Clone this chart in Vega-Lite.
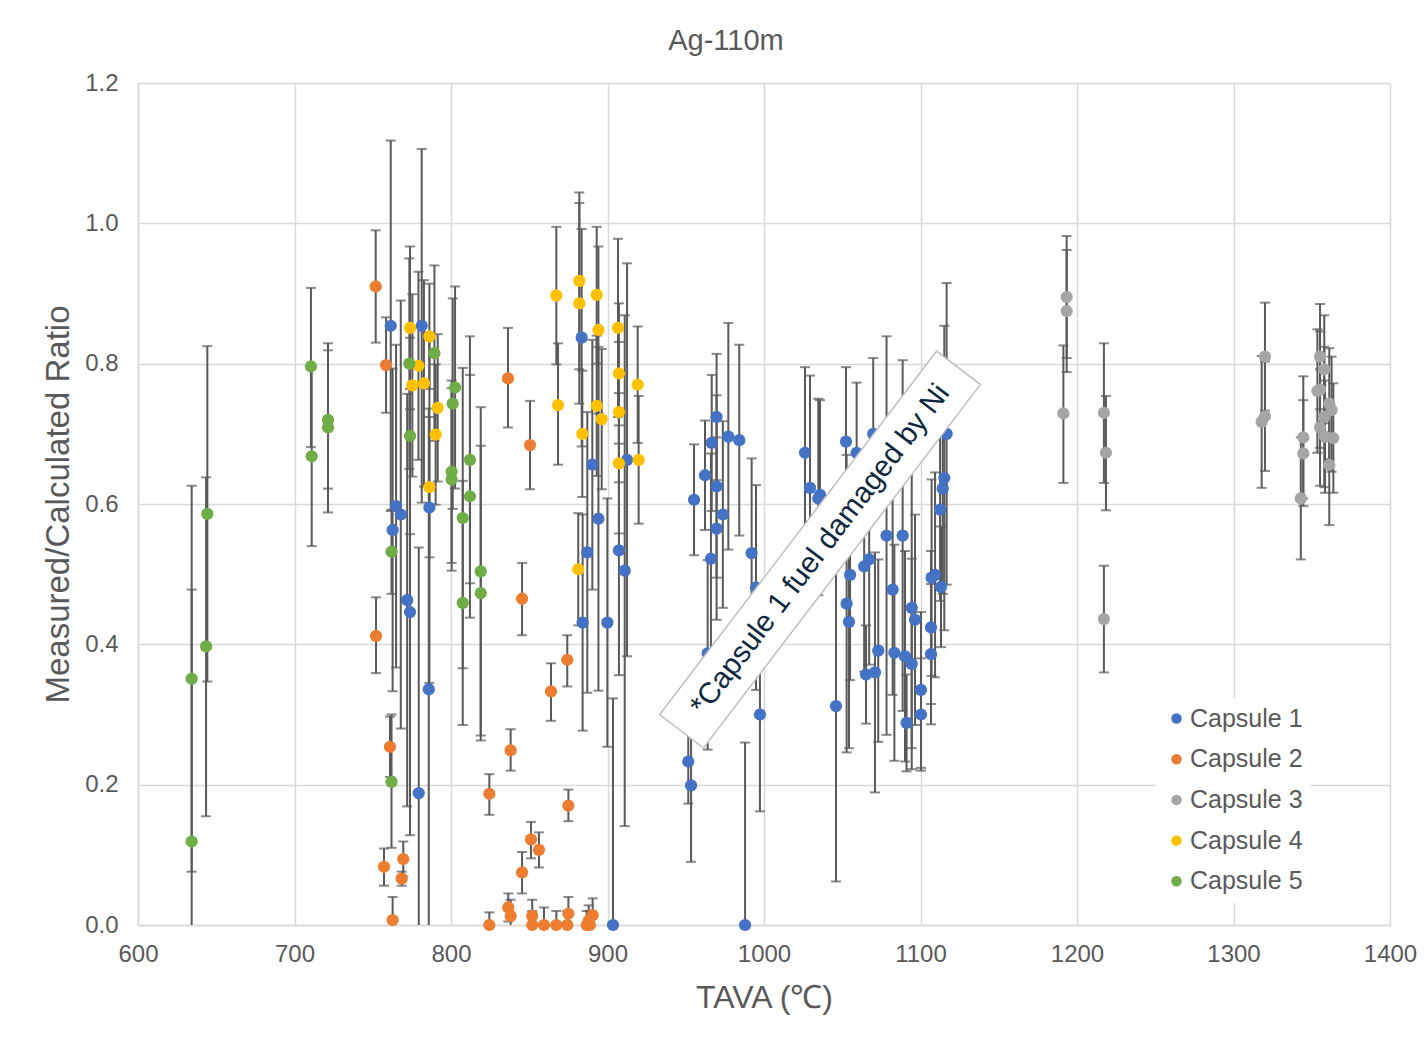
{
  "$schema": "https://vega.github.io/schema/vega-lite/v6.json",
  "width": 1252,
  "height": 842,
  "autosize": {"type": "none"},
  "padding": {"left": 138, "top": 83, "right": 34, "bottom": 113},
  "background": "white",
  "config": {"view": {"stroke": null}, "font": "Liberation Sans"},
  "title": {"text": "Ag-110m", "fontSize": 29, "fontWeight": "normal", "color": "#595959", "offset": -14, "dx": -38, "baseline": "bottom", "font": "Liberation Sans"},
  "datasets": {
    "pts": [
      {"c":"Capsule 1","x":761.5,"y":0.854,"lo":0.59,"hi":1.118},
      {"c":"Capsule 1","x":781.3,"y":0.854,"lo":0.602,"hi":1.106},
      {"c":"Capsule 1","x":764.9,"y":0.597,"lo":0.367,"hi":0.827},
      {"c":"Capsule 1","x":767.9,"y":0.585,"lo":0.28,"hi":0.89},
      {"c":"Capsule 1","x":786.2,"y":0.595,"lo":0.345,"hi":0.845},
      {"c":"Capsule 1","x":762.7,"y":0.563,"lo":0.333,"hi":0.793},
      {"c":"Capsule 1","x":772.0,"y":0.463,"lo":0.169,"hi":0.757},
      {"c":"Capsule 1","x":773.8,"y":0.446,"lo":0.128,"hi":0.764},
      {"c":"Capsule 1","x":785.8,"y":0.336,"lo":-0.064,"hi":0.736},
      {"c":"Capsule 1","x":779.4,"y":0.188,"lo":-0.162,"hi":0.538},
      {"c":"Capsule 1","x":883.5,"y":0.837,"lo":0.682,"hi":0.992},
      {"c":"Capsule 1","x":890.3,"y":0.656,"lo":0.478,"hi":0.834},
      {"c":"Capsule 1","x":894.2,"y":0.579,"lo":0.334,"hi":0.824},
      {"c":"Capsule 1","x":887.1,"y":0.531,"lo":0.331,"hi":0.731},
      {"c":"Capsule 1","x":884.1,"y":0.431,"lo":0.277,"hi":0.585},
      {"c":"Capsule 1","x":899.9,"y":0.431,"lo":0.254,"hi":0.608},
      {"c":"Capsule 1","x":907.3,"y":0.534,"lo":0.356,"hi":0.712},
      {"c":"Capsule 1","x":911.0,"y":0.505,"lo":0.141,"hi":0.869},
      {"c":"Capsule 1","x":912.5,"y":0.663,"lo":0.383,"hi":0.943},
      {"c":"Capsule 1","x":903.5,"y":0.0,"lo":-0.323,"hi":0.323},
      {"c":"Capsule 1","x":955.3,"y":0.606,"lo":0.527,"hi":0.685},
      {"c":"Capsule 1","x":962.3,"y":0.641,"lo":0.563,"hi":0.719},
      {"c":"Capsule 1","x":966.6,"y":0.687,"lo":0.59,"hi":0.784},
      {"c":"Capsule 1","x":969.7,"y":0.724,"lo":0.634,"hi":0.814},
      {"c":"Capsule 1","x":977.2,"y":0.696,"lo":0.535,"hi":0.858},
      {"c":"Capsule 1","x":984.2,"y":0.691,"lo":0.555,"hi":0.827},
      {"c":"Capsule 1","x":969.7,"y":0.625,"lo":0.495,"hi":0.755},
      {"c":"Capsule 1","x":973.7,"y":0.585,"lo":0.452,"hi":0.718},
      {"c":"Capsule 1","x":969.7,"y":0.565,"lo":0.435,"hi":0.695},
      {"c":"Capsule 1","x":966.1,"y":0.522,"lo":0.372,"hi":0.672},
      {"c":"Capsule 1","x":964.0,"y":0.387,"lo":0.25,"hi":0.52},
      {"c":"Capsule 1","x":992.1,"y":0.53,"lo":0.395,"hi":0.665},
      {"c":"Capsule 1","x":994.9,"y":0.481,"lo":0.335,"hi":0.627},
      {"c":"Capsule 1","x":997.4,"y":0.3,"lo":0.162,"hi":0.438},
      {"c":"Capsule 1","x":951.6,"y":0.233,"lo":0.173,"hi":0.293},
      {"c":"Capsule 1","x":953.4,"y":0.199,"lo":0.09,"hi":0.308},
      {"c":"Capsule 1","x":987.9,"y":0.0,"lo":-0.26,"hi":0.26},
      {"c":"Capsule 1","x":1026.2,"y":0.673,"lo":0.551,"hi":0.795},
      {"c":"Capsule 1","x":1029.4,"y":0.623,"lo":0.463,"hi":0.783},
      {"c":"Capsule 1","x":1034.7,"y":0.608,"lo":0.47,"hi":0.75},
      {"c":"Capsule 1","x":1035.8,"y":0.613,"lo":0.478,"hi":0.748},
      {"c":"Capsule 1","x":1046.0,"y":0.312,"lo":0.062,"hi":0.562},
      {"c":"Capsule 1","x":1052.4,"y":0.689,"lo":0.583,"hi":0.795},
      {"c":"Capsule 1","x":1052.8,"y":0.458,"lo":0.246,"hi":0.67},
      {"c":"Capsule 1","x":1054.3,"y":0.432,"lo":0.252,"hi":0.612},
      {"c":"Capsule 1","x":1055.0,"y":0.499,"lo":0.349,"hi":0.649},
      {"c":"Capsule 1","x":1059.2,"y":0.673,"lo":0.573,"hi":0.773},
      {"c":"Capsule 1","x":1064.0,"y":0.511,"lo":0.361,"hi":0.661},
      {"c":"Capsule 1","x":1065.2,"y":0.357,"lo":0.287,"hi":0.427},
      {"c":"Capsule 1","x":1067.2,"y":0.521,"lo":0.371,"hi":0.671},
      {"c":"Capsule 1","x":1069.8,"y":0.7,"lo":0.592,"hi":0.808},
      {"c":"Capsule 1","x":1070.9,"y":0.36,"lo":0.189,"hi":0.531},
      {"c":"Capsule 1","x":1073.0,"y":0.391,"lo":0.261,"hi":0.521},
      {"c":"Capsule 1","x":1078.3,"y":0.555,"lo":0.271,"hi":0.839},
      {"c":"Capsule 1","x":1082.2,"y":0.478,"lo":0.328,"hi":0.628},
      {"c":"Capsule 1","x":1083.3,"y":0.388,"lo":0.234,"hi":0.542},
      {"c":"Capsule 1","x":1088.6,"y":0.555,"lo":0.305,"hi":0.805},
      {"c":"Capsule 1","x":1090.1,"y":0.383,"lo":0.233,"hi":0.533},
      {"c":"Capsule 1","x":1091.1,"y":0.288,"lo":0.219,"hi":0.357},
      {"c":"Capsule 1","x":1094.4,"y":0.452,"lo":0.252,"hi":0.652},
      {"c":"Capsule 1","x":1094.4,"y":0.372,"lo":0.222,"hi":0.522},
      {"c":"Capsule 1","x":1096.5,"y":0.435,"lo":0.285,"hi":0.585},
      {"c":"Capsule 1","x":1100.3,"y":0.335,"lo":0.224,"hi":0.446},
      {"c":"Capsule 1","x":1100.3,"y":0.3,"lo":0.22,"hi":0.38},
      {"c":"Capsule 1","x":1106.7,"y":0.424,"lo":0.315,"hi":0.533},
      {"c":"Capsule 1","x":1106.7,"y":0.386,"lo":0.286,"hi":0.486},
      {"c":"Capsule 1","x":1107.1,"y":0.495,"lo":0.355,"hi":0.635},
      {"c":"Capsule 1","x":1109.3,"y":0.499,"lo":0.353,"hi":0.645},
      {"c":"Capsule 1","x":1113.1,"y":0.482,"lo":0.396,"hi":0.568},
      {"c":"Capsule 1","x":1112.5,"y":0.592,"lo":0.462,"hi":0.722},
      {"c":"Capsule 1","x":1114.2,"y":0.622,"lo":0.472,"hi":0.772},
      {"c":"Capsule 1","x":1115.2,"y":0.637,"lo":0.42,"hi":0.854},
      {"c":"Capsule 1","x":1116.7,"y":0.7,"lo":0.485,"hi":0.915},
      {"c":"Capsule 2","x":751.9,"y":0.91,"lo":0.83,"hi":0.99},
      {"c":"Capsule 2","x":752.1,"y":0.412,"lo":0.359,"hi":0.467},
      {"c":"Capsule 2","x":758.5,"y":0.798,"lo":0.73,"hi":0.866},
      {"c":"Capsule 2","x":761.0,"y":0.254,"lo":0.211,"hi":0.297},
      {"c":"Capsule 2","x":757.2,"y":0.083,"lo":0.056,"hi":0.109},
      {"c":"Capsule 2","x":769.5,"y":0.094,"lo":0.069,"hi":0.119},
      {"c":"Capsule 2","x":768.5,"y":0.066,"lo":0.056,"hi":0.076},
      {"c":"Capsule 2","x":762.7,"y":0.007,"lo":-0.026,"hi":0.04},
      {"c":"Capsule 2","x":824.5,"y":0.187,"lo":0.157,"hi":0.215},
      {"c":"Capsule 2","x":824.5,"y":0.0,"lo":-0.018,"hi":0.018},
      {"c":"Capsule 2","x":836.4,"y":0.779,"lo":0.709,"hi":0.851},
      {"c":"Capsule 2","x":850.5,"y":0.684,"lo":0.621,"hi":0.747},
      {"c":"Capsule 2","x":845.4,"y":0.465,"lo":0.413,"hi":0.516},
      {"c":"Capsule 2","x":874.3,"y":0.378,"lo":0.34,"hi":0.413},
      {"c":"Capsule 2","x":863.9,"y":0.333,"lo":0.291,"hi":0.373},
      {"c":"Capsule 2","x":838.1,"y":0.249,"lo":0.22,"hi":0.279},
      {"c":"Capsule 2","x":875.0,"y":0.17,"lo":0.148,"hi":0.193},
      {"c":"Capsule 2","x":851.1,"y":0.122,"lo":0.095,"hi":0.147},
      {"c":"Capsule 2","x":856.2,"y":0.107,"lo":0.082,"hi":0.132},
      {"c":"Capsule 2","x":845.4,"y":0.075,"lo":0.045,"hi":0.104},
      {"c":"Capsule 2","x":836.6,"y":0.025,"lo":0.005,"hi":0.045},
      {"c":"Capsule 2","x":838.1,"y":0.013,"lo":-0.01,"hi":0.036},
      {"c":"Capsule 2","x":851.9,"y":0.013,"lo":-0.01,"hi":0.036},
      {"c":"Capsule 2","x":851.9,"y":0.0,"lo":-0.02,"hi":0.02},
      {"c":"Capsule 2","x":859.4,"y":0.0,"lo":-0.025,"hi":0.025},
      {"c":"Capsule 2","x":867.3,"y":0.0,"lo":-0.02,"hi":0.02},
      {"c":"Capsule 2","x":874.3,"y":0.0,"lo":-0.02,"hi":0.02},
      {"c":"Capsule 2","x":875.0,"y":0.016,"lo":-0.01,"hi":0.04},
      {"c":"Capsule 2","x":886.7,"y":0.0,"lo":-0.02,"hi":0.02},
      {"c":"Capsule 2","x":888.8,"y":0.0,"lo":-0.02,"hi":0.02},
      {"c":"Capsule 2","x":890.5,"y":0.014,"lo":-0.01,"hi":0.038},
      {"c":"Capsule 2","x":888.0,"y":0.006,"lo":-0.015,"hi":0.028},
      {"c":"Capsule 3","x":1193.4,"y":0.895,"lo":0.808,"hi":0.982},
      {"c":"Capsule 3","x":1193.4,"y":0.875,"lo":0.788,"hi":0.962},
      {"c":"Capsule 3","x":1191.3,"y":0.729,"lo":0.63,"hi":0.826},
      {"c":"Capsule 3","x":1217.2,"y":0.73,"lo":0.63,"hi":0.829},
      {"c":"Capsule 3","x":1218.5,"y":0.673,"lo":0.591,"hi":0.754},
      {"c":"Capsule 3","x":1217.2,"y":0.436,"lo":0.36,"hi":0.512},
      {"c":"Capsule 3","x":1320.1,"y":0.81,"lo":0.733,"hi":0.887},
      {"c":"Capsule 3","x":1320.1,"y":0.725,"lo":0.647,"hi":0.803},
      {"c":"Capsule 3","x":1318.0,"y":0.717,"lo":0.623,"hi":0.811},
      {"c":"Capsule 3","x":1344.6,"y":0.695,"lo":0.608,"hi":0.782},
      {"c":"Capsule 3","x":1344.6,"y":0.672,"lo":0.597,"hi":0.748},
      {"c":"Capsule 3","x":1343.0,"y":0.608,"lo":0.521,"hi":0.695},
      {"c":"Capsule 3","x":1355.3,"y":0.81,"lo":0.735,"hi":0.885},
      {"c":"Capsule 3","x":1358.0,"y":0.792,"lo":0.715,"hi":0.869},
      {"c":"Capsule 3","x":1355.3,"y":0.763,"lo":0.68,"hi":0.846},
      {"c":"Capsule 3","x":1353.6,"y":0.761,"lo":0.673,"hi":0.849},
      {"c":"Capsule 3","x":1361.2,"y":0.743,"lo":0.664,"hi":0.822},
      {"c":"Capsule 3","x":1362.7,"y":0.734,"lo":0.646,"hi":0.81},
      {"c":"Capsule 3","x":1358.0,"y":0.724,"lo":0.624,"hi":0.824},
      {"c":"Capsule 3","x":1355.3,"y":0.709,"lo":0.626,"hi":0.792},
      {"c":"Capsule 3","x":1358.5,"y":0.696,"lo":0.616,"hi":0.776},
      {"c":"Capsule 3","x":1363.8,"y":0.694,"lo":0.616,"hi":0.772},
      {"c":"Capsule 3","x":1361.2,"y":0.656,"lo":0.57,"hi":0.742},
      {"c":"Capsule 4","x":773.8,"y":0.851,"lo":0.735,"hi":0.967},
      {"c":"Capsule 4","x":786.2,"y":0.839,"lo":0.764,"hi":0.914},
      {"c":"Capsule 4","x":779.2,"y":0.797,"lo":0.663,"hi":0.931},
      {"c":"Capsule 4","x":775.3,"y":0.769,"lo":0.639,"hi":0.899},
      {"c":"Capsule 4","x":782.7,"y":0.772,"lo":0.625,"hi":0.919},
      {"c":"Capsule 4","x":791.5,"y":0.737,"lo":0.632,"hi":0.842},
      {"c":"Capsule 4","x":790.2,"y":0.699,"lo":0.599,"hi":0.799},
      {"c":"Capsule 4","x":786.2,"y":0.624,"lo":0.524,"hi":0.724},
      {"c":"Capsule 4","x":867.3,"y":0.897,"lo":0.799,"hi":0.995},
      {"c":"Capsule 4","x":868.4,"y":0.741,"lo":0.656,"hi":0.829},
      {"c":"Capsule 4","x":882.0,"y":0.918,"lo":0.792,"hi":1.044},
      {"c":"Capsule 4","x":882.0,"y":0.886,"lo":0.743,"hi":1.029},
      {"c":"Capsule 4","x":883.9,"y":0.7,"lo":0.61,"hi":0.79},
      {"c":"Capsule 4","x":893.1,"y":0.898,"lo":0.8,"hi":0.995},
      {"c":"Capsule 4","x":894.2,"y":0.848,"lo":0.729,"hi":0.967},
      {"c":"Capsule 4","x":893.1,"y":0.74,"lo":0.64,"hi":0.84},
      {"c":"Capsule 4","x":896.3,"y":0.721,"lo":0.621,"hi":0.821},
      {"c":"Capsule 4","x":881.3,"y":0.507,"lo":0.427,"hi":0.587},
      {"c":"Capsule 4","x":906.7,"y":0.851,"lo":0.724,"hi":0.978},
      {"c":"Capsule 4","x":907.3,"y":0.786,"lo":0.686,"hi":0.886},
      {"c":"Capsule 4","x":907.3,"y":0.731,"lo":0.631,"hi":0.831},
      {"c":"Capsule 4","x":907.3,"y":0.658,"lo":0.558,"hi":0.758},
      {"c":"Capsule 4","x":919.3,"y":0.77,"lo":0.687,"hi":0.853},
      {"c":"Capsule 4","x":919.9,"y":0.663,"lo":0.572,"hi":0.754},
      {"c":"Capsule 5","x":634.3,"y":0.351,"lo":0.076,"hi":0.626},
      {"c":"Capsule 5","x":634.3,"y":0.119,"lo":-0.24,"hi":0.478},
      {"c":"Capsule 5","x":644.3,"y":0.586,"lo":0.347,"hi":0.825},
      {"c":"Capsule 5","x":643.5,"y":0.397,"lo":0.155,"hi":0.638},
      {"c":"Capsule 5","x":710.5,"y":0.796,"lo":0.681,"hi":0.908},
      {"c":"Capsule 5","x":711.0,"y":0.668,"lo":0.54,"hi":0.796},
      {"c":"Capsule 5","x":721.4,"y":0.72,"lo":0.622,"hi":0.829},
      {"c":"Capsule 5","x":721.4,"y":0.709,"lo":0.588,"hi":0.819},
      {"c":"Capsule 5","x":762.0,"y":0.532,"lo":0.472,"hi":0.592},
      {"c":"Capsule 5","x":762.0,"y":0.204,"lo":0.11,"hi":0.3},
      {"c":"Capsule 5","x":773.4,"y":0.8,"lo":0.65,"hi":0.95},
      {"c":"Capsule 5","x":773.8,"y":0.697,"lo":0.557,"hi":0.837},
      {"c":"Capsule 5","x":789.4,"y":0.815,"lo":0.69,"hi":0.94},
      {"c":"Capsule 5","x":802.6,"y":0.766,"lo":0.622,"hi":0.91},
      {"c":"Capsule 5","x":801.1,"y":0.743,"lo":0.593,"hi":0.893},
      {"c":"Capsule 5","x":800.4,"y":0.646,"lo":0.516,"hi":0.776},
      {"c":"Capsule 5","x":800.4,"y":0.635,"lo":0.505,"hi":0.765},
      {"c":"Capsule 5","x":812.1,"y":0.663,"lo":0.487,"hi":0.839},
      {"c":"Capsule 5","x":812.1,"y":0.611,"lo":0.438,"hi":0.784},
      {"c":"Capsule 5","x":807.5,"y":0.58,"lo":0.366,"hi":0.794},
      {"c":"Capsule 5","x":807.5,"y":0.459,"lo":0.285,"hi":0.633},
      {"c":"Capsule 5","x":819.0,"y":0.504,"lo":0.27,"hi":0.738},
      {"c":"Capsule 5","x":819.0,"y":0.473,"lo":0.263,"hi":0.683}
    ],
    "note": [
      {"x": 1035.8, "y": 0.535, "label": "*Capsule 1 fuel damaged by Ni"}
    ]
  },
  "layer": [
    {
      "data": {"name": "pts"},
      "mark": {"type": "rule", "color": "#595959", "strokeWidth": 2, "clip": true},
      "encoding": {
        "x": {"field": "x", "type": "quantitative", "scale": {"domain": [600, 1400], "nice": false},
          "axis": {"values": [600,700,800,900,1000,1100,1200,1300,1400], "format": "d", "grid": true, "gridColor": "#d9d9d9", "gridWidth": 1.5,
            "domainColor": "#d9d9d9", "domainWidth": 1.5, "ticks": false, "tickSize": 0, "labelFontSize": 24, "labelColor": "#595959",
            "labelPadding": 17, "labelFlush": false, "labelOverlap": false, "labelFont": "Liberation Sans",
            "title": "TAVA (℃)", "titleFontSize": 32, "titleFontWeight": "normal", "titleColor": "#595959", "titleFont": "Liberation Sans",
            "titleY": 72, "titleBaseline": "middle"}},
        "y": {"field": "lo", "type": "quantitative", "scale": {"domain": [0, 1.2], "nice": false},
          "axis": {"values": [0,0.2,0.4,0.6,0.8,1.0,1.2], "format": ".1f", "grid": true, "gridColor": "#d9d9d9", "gridWidth": 1.5,
            "domainColor": "#d9d9d9", "domainWidth": 1.5, "ticks": false, "tickSize": 0, "labelFontSize": 24, "labelColor": "#595959",
            "labelPadding": 20, "labelFlush": false, "labelOverlap": false, "labelFont": "Liberation Sans",
            "title": "Measured/Calculated  Ratio", "titleFontSize": 33, "titleFontWeight": "normal", "titleColor": "#595959", "titleFont": "Liberation Sans",
            "titleX": -80, "titleY": 421, "titleAngle": -90, "titleBaseline": "middle"}},
        "y2": {"field": "hi"}
      }
    },
    {
      "data": {"name": "pts"},
      "mark": {"type": "tick", "orient": "horizontal", "color": "#595959", "size": 10, "thickness": 2, "clip": true},
      "encoding": {
        "x": {"field": "x", "type": "quantitative"},
        "y": {"field": "lo", "type": "quantitative"}
      }
    },
    {
      "data": {"name": "pts"},
      "mark": {"type": "tick", "orient": "horizontal", "color": "#595959", "size": 10, "thickness": 2, "clip": true},
      "encoding": {
        "x": {"field": "x", "type": "quantitative"},
        "y": {"field": "hi", "type": "quantitative"}
      }
    },
    {
      "data": {"name": "pts"},
      "mark": {"type": "point", "filled": true, "size": 150, "opacity": 1, "strokeWidth": 0},
      "encoding": {
        "x": {"field": "x", "type": "quantitative"},
        "y": {"field": "y", "type": "quantitative"},
        "color": {"field": "c", "type": "nominal",
          "scale": {"domain": ["Capsule 1","Capsule 2","Capsule 3","Capsule 4","Capsule 5"], "range": ["#4472C4","#ED7D31","#A5A5A5","#FFC000","#70AD47"]},
          "legend": {"orient": "none", "legendX": 1018, "legendY": 615, "title": null, "symbolType": "circle", "symbolSize": 110,
            "symbolStrokeWidth": 0, "labelFontSize": 25, "labelColor": "#595959", "labelFont": "Liberation Sans", "rowPadding": 14.7,
            "fillColor": "white", "padding": 8, "labelOffset": 1}}
      }
    },
    {
      "data": {"name": "note"},
      "mark": {"type": "point", "shape": "M-1,-0.1204L1,-0.1204L1,0.1204L-1,0.1204Z", "size": 208849, "angle": -52.7,
        "filled": true, "fill": "white", "stroke": "#bfbfbf", "strokeWidth": 1.5, "opacity": 1},
      "encoding": {
        "x": {"field": "x", "type": "quantitative"},
        "y": {"field": "y", "type": "quantitative"}
      }
    },
    {
      "data": {"name": "note"},
      "mark": {"type": "text", "angle": -52.7, "fontSize": 29.5, "font": "Liberation Sans", "color": "#0e2841", "align": "center", "baseline": "middle"},
      "encoding": {
        "x": {"field": "x", "type": "quantitative"},
        "y": {"field": "y", "type": "quantitative"},
        "text": {"field": "label"}
      }
    }
  ]
}
